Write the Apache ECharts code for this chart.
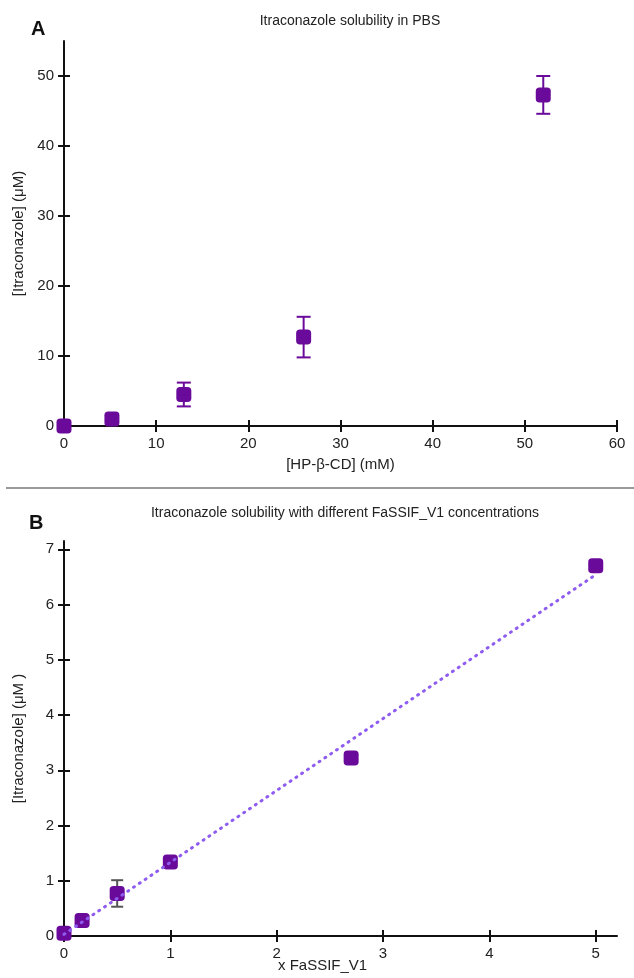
<!DOCTYPE html>
<html><head><meta charset="utf-8">
<script src="https://cdn.jsdelivr.net/npm/echarts@6/dist/echarts.min.js"></script>
<style>html,body{margin:0;padding:0;background:#fff}#c{width:634px;height:978px}</style>
</head><body><div id="c"></div>
<script>
// Panel A data
const aX = [0, 5.2, 13, 26, 52];
const aY = [0, 1.0, 4.5, 12.7, 47.3];
const aErr = [0, 0, 1.7, 2.9, 2.7];
const aXTicks = [0, 10, 20, 30, 40, 50, 60];
const aYTicks = [0, 10, 20, 30, 40, 50];
// Panel B data
const bX = [0, 0.17, 0.5, 1, 2.7, 5];
const bY = [0.05, 0.28, 0.77, 1.34, 3.22, 6.7];
const bErr = [0, 0, 0.24, 0, 0, 0];
const trendX = [0, 5];
const trendY = [0.03, 6.54];
const bXTicks = [0, 1, 2, 3, 4, 5];
const bYTicks = [0, 1, 2, 3, 4, 5, 6, 7];

const purple = '#6a0a9a';
const font = 'Liberation Sans, Arial, sans-serif';
const chart = echarts.init(document.getElementById('c'));

function pts(xs, ys) { return xs.map((x, i) => [x, ys[i]]); }
function errData(xs, ys, es) { return xs.map((x, i) => [x, ys[i] - es[i], ys[i] + es[i]]).filter((d, i) => es[i] > 0); }
function errSeries(xi, yi, data, color, cap) {
  return {
    type: 'custom', xAxisIndex: xi, yAxisIndex: yi, data: data, z: 1,
    renderItem: function (params, api) {
      const x = api.value(0);
      const lo = api.coord([x, api.value(1)]);
      const hi = api.coord([x, api.value(2)]);
      const st = { stroke: color, lineWidth: 2 };
      return { type: 'group', children: [
        { type: 'line', shape: { x1: lo[0], y1: lo[1], x2: hi[0], y2: hi[1] }, style: st },
        { type: 'line', shape: { x1: lo[0] - cap, y1: lo[1], x2: lo[0] + cap, y2: lo[1] }, style: st },
        { type: 'line', shape: { x1: hi[0] - cap, y1: hi[1], x2: hi[0] + cap, y2: hi[1] }, style: st }
      ]};
    }
  };
}
function mkAxis(pos, grid, min, max, ticks, inside, fs, name, nameGap) {
  return {
    type: 'value', gridIndex: grid, min: min, max: max, position: pos, offset: 0,
    name: inside ? '' : name, nameLocation: 'middle', nameGap: nameGap,
    nameTextStyle: { color: '#222', fontSize: 15, fontFamily: font },
    splitLine: { show: false },
    axisLine: { show: !inside, onZero: false, lineStyle: { color: '#111', width: 2 } },
    axisTick: { show: true, inside: inside, length: 6, customValues: ticks, lineStyle: { color: '#111', width: 2 } },
    axisLabel: { show: !inside, customValues: ticks, color: '#222', fontSize: fs, fontFamily: font, margin: 10 }
  };
}

const option = {
  animation: false,
  textStyle: { fontFamily: font },
  title: [
    { text: 'Itraconazole solubility in PBS', left: 345, top: 9, textAlign: 'center',
      textStyle: { fontSize: 14, fontWeight: 'normal', color: '#222', fontFamily: font } },
    { text: 'A', left: 26, top: 14, textStyle: { fontSize: 20, fontWeight: 'bold', color: '#111', fontFamily: font } },
    { text: 'Itraconazole solubility with different FaSSIF_V1 concentrations', left: 340, top: 501, textAlign: 'center',
      textStyle: { fontSize: 14, fontWeight: 'normal', color: '#222', fontFamily: font } },
    { text: 'B', left: 24, top: 508, textStyle: { fontSize: 20, fontWeight: 'bold', color: '#111', fontFamily: font } }
  ],
  graphic: [
    { type: 'line', shape: { x1: 6, y1: 488, x2: 634, y2: 488 }, style: { stroke: '#999', lineWidth: 2 } },
    { type: 'text', left: 278, top: 958, style: { text: 'x FaSSIF_V1', fontSize: 15, fill: '#222', fontFamily: font } }
  ],
  grid: [
    { left: 64, right: 17, top: 41, bottom: 552 },
    { left: 64, right: 17, top: 541, bottom: 42 }
  ],
  xAxis: [
    mkAxis('bottom', 0, 0, 60, aXTicks, false, 15, '[HP-β-CD] (mM)', 31),
    mkAxis('bottom', 0, 0, 60, aXTicks, true, 15, '', 0),
    mkAxis('bottom', 1, 0, 5.2, bXTicks, false, 15, '', 0),
    mkAxis('bottom', 1, 0, 5.2, bXTicks, true, 15, '', 0)
  ],
  yAxis: [
    mkAxis('left', 0, 0, 55, aYTicks, false, 15, '[Itraconazole] (μM)', 38),
    mkAxis('left', 0, 0, 55, aYTicks, true, 15, '', 0),
    mkAxis('left', 1, 0, 7.15, bYTicks, false, 15, '[Itraconazole] (μM )', 38),
    mkAxis('left', 1, 0, 7.15, bYTicks, true, 15, '', 0)
  ],
  series: [
    errSeries(0, 0, errData(aX, aY, aErr), purple, 7),
    { type: 'scatter', xAxisIndex: 0, yAxisIndex: 0, data: pts(aX, aY), symbol: 'roundRect', symbolSize: 15,
      itemStyle: { color: purple, opacity: 1 }, z: 3, clip: false },
    { type: 'line', xAxisIndex: 2, yAxisIndex: 2, data: pts(trendX, trendY), symbol: 'none', z: 4,
      lineStyle: { color: '#8e5cf0', width: 3, type: [1, 6], cap: 'round' } },
    errSeries(2, 2, errData(bX, bY, bErr), '#555', 6),
    { type: 'scatter', xAxisIndex: 2, yAxisIndex: 2, data: pts(bX, bY), symbol: 'roundRect', symbolSize: 15,
      itemStyle: { color: purple, opacity: 1 }, z: 3, clip: false }
  ]
};
chart.setOption(option);
</script></body></html>
